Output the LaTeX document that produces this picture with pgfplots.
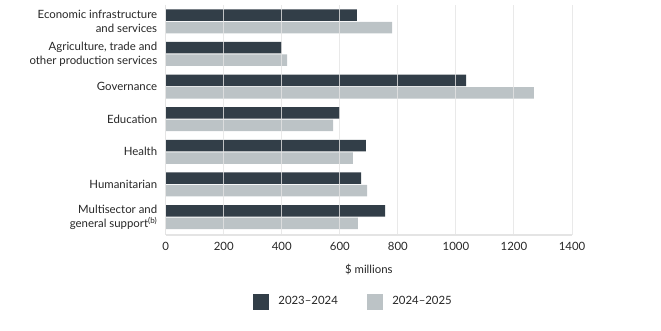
\documentclass[border=0pt]{standalone}
\usepackage{pgfplots}
\pgfplotsset{compat=1.18}
\usepackage{fontspec}
\setmainfont{Lato}
\definecolor{darkbar}{HTML}{323E48}
\definecolor{lightbar}{HTML}{BCC3C6}
\definecolor{gridc}{HTML}{E4E4E4}
\begin{document}
\begin{tikzpicture}[x=1pt,y=1pt]
\path (0,0) rectangle (661,330);
\begin{axis}[
  at={(165.7pt,95pt)}, anchor=south west,
  scale only axis, width=406.3pt, height=230pt,
  xmin=0, xmax=1400, ymin=-0.5, ymax=6.55,
  y dir=reverse,
  xtick={0,200,...,1400},
  ytick={0,...,6},
  yticklabels={{Economic infrastructure\\and services},{Agriculture, trade and\\other production services},Governance,Education,Health,Humanitarian,{Multisector and\\general support\textsuperscript{(b)}}},
  yticklabel style={align=right, font=\fontsize{11.4}{14}\selectfont, text=black!85, xshift=-5pt},
  xticklabel style={font=\fontsize{11.4}{14}\selectfont, text=black!85, yshift=-4pt},
  /pgf/number format/assume math mode=true,
  /pgf/number format/1000 sep={},
  major tick length=0pt,
  xmajorgrids, grid style={gridc, line width=1pt, opacity=0.8},
  axis x line*=bottom, axis y line*=left,
  axis line style={gridc, line width=1.2pt},
  axis on top,
  xlabel={\$ millions}, xlabel style={font=\fontsize{11.4}{14}\selectfont, text=black!85, yshift=-6pt},
  legend style={at={(0.462,-0.289)}, anchor=center, draw=none, legend columns=2,
    font=\fontsize{11.4}{14}\selectfont, text=black!85,
    /tikz/every odd column/.append style={column sep=8pt},
    /tikz/every even column/.append style={column sep=27pt}},
  xbar, bar width=11.5pt,
]
\addplot[fill=darkbar, draw=none, bar shift=6.2pt, forget plot] coordinates {
(659,0) (400,1) (1035,2) (600,3) (690,4) (673,5) (756,6)};
\addplot[fill=lightbar, draw=none, bar shift=-6.2pt, forget plot] coordinates {
(780,0) (418,1) (1269,2) (577,3) (645,4) (694,5) (662,6)};
\addlegendimage{legend image code/.code={\fill[darkbar] (0pt,-7.5pt) rectangle (15pt,7.5pt);}}
\addlegendentry{2023--2024}
\addlegendimage{legend image code/.code={\fill[lightbar] (0pt,-7.5pt) rectangle (15pt,7.5pt);}}
\addlegendentry{2024--2025}
\end{axis}
\end{tikzpicture}
\end{document}
